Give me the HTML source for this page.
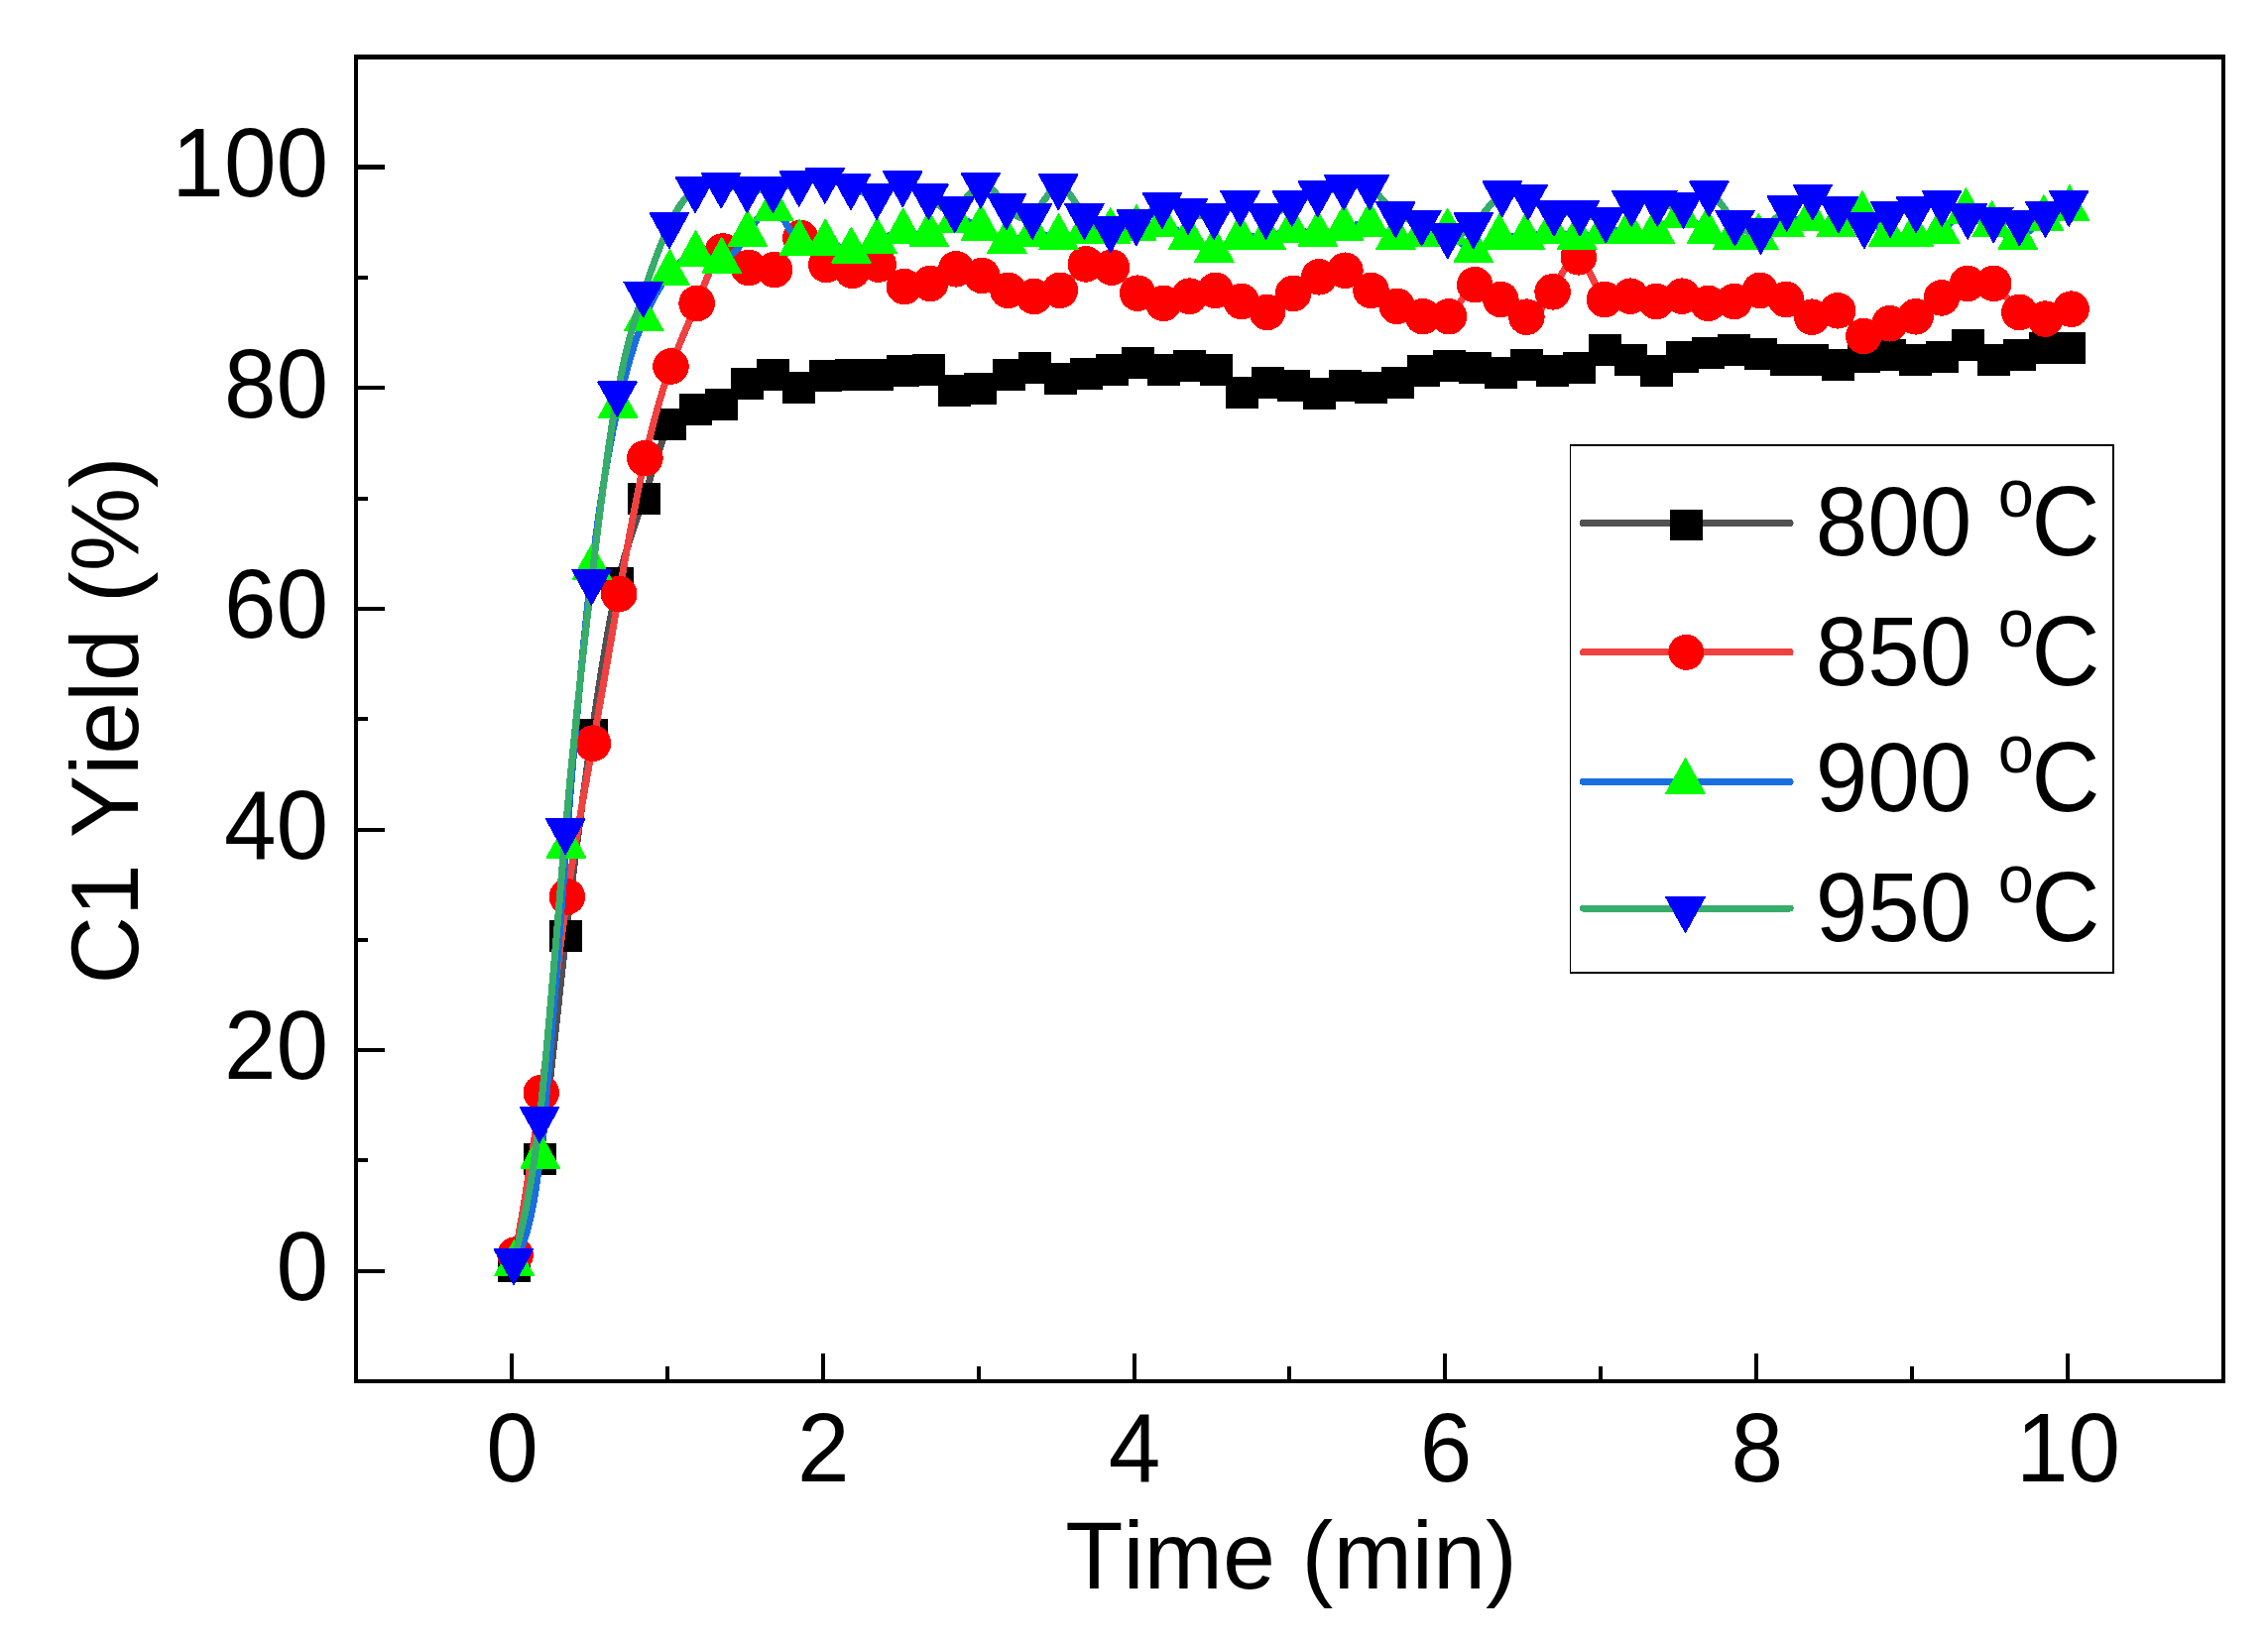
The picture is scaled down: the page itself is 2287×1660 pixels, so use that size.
<!DOCTYPE html>
<html lang="en"><head><meta charset="utf-8"><title>C1 Yield vs Time</title>
<style>html,body{margin:0;padding:0;background:#fff}body{width:2287px;height:1660px;overflow:hidden}svg{display:block}text{font-family:"Liberation Sans",Arial,Helvetica,sans-serif;fill:#000;font-kerning:none;letter-spacing:0}</style></head><body>
<svg width="2287" height="1660" viewBox="0 0 2287 1660" shape-rendering="crispEdges">
<rect width="2287" height="1660" fill="#fff"/>
<path d="M518.3 1276.8C527 1251.7 535.7 1226.5 544.4 1169C553.2 1111.5 561.9 1021.5 570.6 944C579.3 866.5 588 801.5 596.7 741.3C605.4 681.1 614.1 625.7 622.9 587.9C631.6 550.1 640.3 529.8 649 503.3C657.7 476.8 666.4 443.9 675.1 428C683.9 412.1 692.6 413.1 701.3 413.4C710 413.7 718.7 413.2 727.4 408.4C736.1 403.6 744.8 394.6 753.6 387.4C762.3 380.2 771 375 779.7 377.5C788.4 380 797.1 390.2 805.8 390.9C814.6 391.6 823.3 382.7 832 379C840.7 375.3 849.4 376.9 858.1 377.5C866.8 378.1 875.5 377.9 884.3 377.5C893 377.1 901.7 376.5 910.4 374.4C919.1 372.3 927.8 368.6 936.5 372.8C945.3 377 954 389.1 962.7 393.9C971.4 398.7 980.1 396.3 988.8 392.4C998.2 388.2 1007.6 382.4 1017 377.5C1025.7 372.9 1034.4 369 1043.1 371C1051.8 373 1060.5 380.7 1069.2 382.4C1078 384.1 1086.7 379.6 1095.4 377.4C1104.1 375.2 1112.8 375.3 1121.5 372.9C1130.2 370.5 1138.9 365.6 1147.7 365.9C1156.4 366.2 1165.1 371.6 1173.8 372.9C1182.5 374.2 1191.2 371.3 1199.9 369.4C1208.7 367.5 1217.4 366.5 1226.1 372.9C1234.8 379.3 1243.5 393 1252.2 395.5C1260.9 398 1269.6 389.2 1278.4 386C1287.1 382.8 1295.8 385.3 1304.5 389C1313.2 392.7 1321.9 397.5 1330.6 396.9C1339.4 396.3 1348.1 390.4 1356.8 389C1365.5 387.6 1374.2 390.6 1382.9 391C1391.6 391.4 1400.3 389.3 1409.1 385.8C1417.8 382.3 1426.5 377.5 1435.2 374.4C1443.9 371.3 1452.6 370 1461.3 369.4C1470.1 368.8 1478.8 368.9 1487.5 371C1496.2 373.1 1504.9 377 1513.6 375.9C1522.3 374.8 1531 368.5 1539.8 367.8C1548.5 367.1 1557.2 372.1 1565.9 374.4C1574.6 376.7 1583.3 376.4 1592 371C1600.8 365.6 1609.5 355.1 1618.2 352.9C1626.9 350.7 1635.6 356.6 1644.3 362.9C1653 369.2 1661.7 375.7 1670.5 374.4C1679.2 373.1 1687.9 363.8 1696.6 359.8C1705.3 355.8 1714 357 1722.7 356.4C1731.5 355.8 1740.2 353.5 1748.9 353.1C1757.6 352.7 1766.3 354.1 1775 356.5C1783.7 358.9 1792.4 362.1 1801.2 362.8C1809.9 363.5 1818.6 361.6 1827.3 362.8C1836 364 1844.7 368.3 1853.4 367.9C1862.2 367.5 1870.9 362.3 1879.6 359.7C1888.3 357.1 1897 357 1905.7 358.1C1914.4 359.2 1923.1 361.5 1931.9 362.8C1940.6 364.1 1949.3 364.2 1958 360C1966.7 355.8 1975.4 347.1 1984.1 348.1C1992.9 349.1 2001.6 359.7 2010.3 362.8C2019 365.9 2027.7 361.5 2036.4 358.1C2045.1 354.7 2053.8 352.3 2062.6 351.4C2070.6 350.6 2078.7 351 2086.7 351.4" fill="none" stroke="#515151" stroke-width="7" stroke-linejoin="round" stroke-linecap="round"/>
<path fill="#000000" shape-rendering="crispEdges" d="M501.8 1260.8h33v32h-33zM527.9 1153h33v32h-33zM554.1 928h33v32h-33zM580.2 725.3h33v32h-33zM606.4 571.9h33v32h-33zM632.5 487.3h33v32h-33zM658.6 412h33v32h-33zM684.8 397.4h33v32h-33zM710.9 392.4h33v32h-33zM737.1 371.4h33v32h-33zM763.2 361.5h33v32h-33zM789.3 374.9h33v32h-33zM815.5 363h33v32h-33zM841.6 361.5h33v32h-33zM867.8 361.5h33v32h-33zM893.9 358.4h33v32h-33zM920 356.8h33v32h-33zM946.2 377.9h33v32h-33zM972.3 376.4h33v32h-33zM1000.5 361.5h33v32h-33zM1026.6 355h33v32h-33zM1052.7 366.4h33v32h-33zM1078.9 361.4h33v32h-33zM1105 356.9h33v32h-33zM1131.2 349.9h33v32h-33zM1157.3 356.9h33v32h-33zM1183.4 353.4h33v32h-33zM1209.6 356.9h33v32h-33zM1235.7 379.5h33v32h-33zM1261.9 370h33v32h-33zM1288 373h33v32h-33zM1314.1 380.9h33v32h-33zM1340.3 373h33v32h-33zM1366.4 375h33v32h-33zM1392.6 369.8h33v32h-33zM1418.7 358.4h33v32h-33zM1444.8 353.4h33v32h-33zM1471 355h33v32h-33zM1497.1 359.9h33v32h-33zM1523.3 351.8h33v32h-33zM1549.4 358.4h33v32h-33zM1575.5 355h33v32h-33zM1601.7 336.9h33v32h-33zM1627.8 346.9h33v32h-33zM1654 358.4h33v32h-33zM1680.1 343.8h33v32h-33zM1706.2 340.4h33v32h-33zM1732.4 337.1h33v32h-33zM1758.5 340.5h33v32h-33zM1784.7 346.8h33v32h-33zM1810.8 346.8h33v32h-33zM1836.9 351.9h33v32h-33zM1863.1 343.7h33v32h-33zM1889.2 342.1h33v32h-33zM1915.4 346.8h33v32h-33zM1941.5 344h33v32h-33zM1967.6 332.1h33v32h-33zM1993.8 346.8h33v32h-33zM2019.9 342.1h33v32h-33zM2046.1 335.4h33v32h-33zM2070.2 335.4h33v32h-33z"/>
<path d="M519.6 1265.6C528.3 1215.1 537 1164.6 545.8 1102C554.5 1039.4 563.2 964.6 571.9 904.4C580.6 844.2 589.3 798.4 598 749.6C606.8 700.8 615.5 648.9 624.2 599C632.9 549 641.6 501 650.4 462.1C659.1 423.2 667.8 393.4 676.5 369.5C685.2 345.6 693.9 327.6 702.6 306C711.4 284.4 720.1 259.2 728.8 253.5C737.5 247.8 746.2 261.7 755 270.1C763.7 278.5 772.4 281.3 781.1 272C789.8 262.7 798.5 241.3 807.2 240C816 238.7 824.7 257.7 833.4 267C842.1 276.3 850.8 276.1 859.5 272.8C868.3 269.5 877 263 885.7 266.6C894.4 270.2 903.1 283.9 911.9 289.1C920.6 294.3 929.3 291.2 938 285.9C946.7 280.6 955.4 273.2 964.1 271.3C972.9 269.4 981.6 273.1 990.3 278C999 282.9 1007.7 289 1016.5 292.8C1025.2 296.6 1033.9 298.2 1042.6 299C1051.3 299.8 1060 299.7 1068.8 292.8C1077.5 285.9 1086.2 272.2 1094.9 266.4C1103.6 260.6 1112.3 262.7 1121 269.6C1129.8 276.5 1138.5 288.3 1147.2 295.7C1155.9 303.1 1164.6 306.2 1173.3 305.9C1182.1 305.6 1190.8 302.1 1199.5 298.7C1208.2 295.3 1216.9 292.2 1225.7 292.9C1234.4 293.6 1243.1 298.3 1251.8 304C1260.5 309.7 1269.2 316.5 1277.9 314.9C1286.7 313.3 1295.4 303.2 1304.1 295.9C1312.8 288.6 1321.5 283.9 1330.2 279.3C1339 274.7 1347.7 270.1 1356.4 272.8C1365.1 275.5 1373.8 285.6 1382.5 292.9C1391.3 300.2 1400 304.9 1408.7 308.8C1417.4 312.6 1426.1 315.6 1434.8 319.2C1443.6 322.8 1452.3 326.9 1461 319.2C1469.7 311.5 1478.4 292 1487.2 287.2C1495.9 282.5 1504.6 292.6 1513.3 302C1522 311.4 1530.7 320 1539.4 319.7C1548.2 319.4 1556.9 310.2 1565.6 294.3C1574.3 278.4 1583 255.8 1591.8 259.3C1600.5 262.8 1609.2 292.5 1617.9 302C1626.6 311.5 1635.3 300.7 1644.1 298.7C1652.8 296.7 1661.5 303.4 1670.2 304C1678.9 304.6 1687.6 298.9 1696.3 298.7C1705.1 298.5 1713.8 303.7 1722.5 305.9C1731.2 308.1 1739.9 307.5 1748.7 304C1757.4 300.5 1766.1 294.3 1774.8 292.9C1783.5 291.5 1792.2 295 1800.9 302C1809.7 309 1818.4 319.6 1827.1 319.7C1835.8 319.8 1844.5 309.4 1853.2 313.3C1862 317.2 1870.7 335.5 1879.4 339C1888.1 342.5 1896.8 331.2 1905.5 326.3C1914.3 321.4 1923 322.9 1931.7 319.3C1940.4 315.7 1949.1 307 1957.8 300.4C1966.6 293.8 1975.3 289.4 1984 285.9C1992.7 282.4 2001.4 279.7 2010.2 285.9C2018.9 292.1 2027.6 307.1 2036.3 314.9C2045 322.7 2053.7 323.3 2062.4 321.6C2071.2 319.9 2079.9 315.8 2088.6 311.7" fill="none" stroke="#F14040" stroke-width="7" stroke-linejoin="round" stroke-linecap="round"/>
<g fill="#FF0000"><circle cx="519.6" cy="1265.6" r="18.3"/><circle cx="545.8" cy="1102" r="18.3"/><circle cx="571.9" cy="904.4" r="18.3"/><circle cx="598" cy="749.6" r="18.3"/><circle cx="624.2" cy="599" r="18.3"/><circle cx="650.4" cy="462.1" r="18.3"/><circle cx="676.5" cy="369.5" r="18.3"/><circle cx="702.6" cy="306" r="18.3"/><circle cx="728.8" cy="253.5" r="18.3"/><circle cx="755" cy="270.1" r="18.3"/><circle cx="781.1" cy="272" r="18.3"/><circle cx="807.2" cy="240" r="18.3"/><circle cx="833.4" cy="267" r="18.3"/><circle cx="859.5" cy="272.8" r="18.3"/><circle cx="885.7" cy="266.6" r="18.3"/><circle cx="911.9" cy="289.1" r="18.3"/><circle cx="938" cy="285.9" r="18.3"/><circle cx="964.1" cy="271.3" r="18.3"/><circle cx="990.3" cy="278" r="18.3"/><circle cx="1016.5" cy="292.8" r="18.3"/><circle cx="1042.6" cy="299" r="18.3"/><circle cx="1068.8" cy="292.8" r="18.3"/><circle cx="1094.9" cy="266.4" r="18.3"/><circle cx="1121" cy="269.6" r="18.3"/><circle cx="1147.2" cy="295.7" r="18.3"/><circle cx="1173.3" cy="305.9" r="18.3"/><circle cx="1199.5" cy="298.7" r="18.3"/><circle cx="1225.7" cy="292.9" r="18.3"/><circle cx="1251.8" cy="304" r="18.3"/><circle cx="1277.9" cy="314.9" r="18.3"/><circle cx="1304.1" cy="295.9" r="18.3"/><circle cx="1330.2" cy="279.3" r="18.3"/><circle cx="1356.4" cy="272.8" r="18.3"/><circle cx="1382.5" cy="292.9" r="18.3"/><circle cx="1408.7" cy="308.8" r="18.3"/><circle cx="1434.8" cy="319.2" r="18.3"/><circle cx="1461" cy="319.2" r="18.3"/><circle cx="1487.2" cy="287.2" r="18.3"/><circle cx="1513.3" cy="302" r="18.3"/><circle cx="1539.4" cy="319.7" r="18.3"/><circle cx="1565.6" cy="294.3" r="18.3"/><circle cx="1591.8" cy="259.3" r="18.3"/><circle cx="1617.9" cy="302" r="18.3"/><circle cx="1644.1" cy="298.7" r="18.3"/><circle cx="1670.2" cy="304" r="18.3"/><circle cx="1696.3" cy="298.7" r="18.3"/><circle cx="1722.5" cy="305.9" r="18.3"/><circle cx="1748.7" cy="304" r="18.3"/><circle cx="1774.8" cy="292.9" r="18.3"/><circle cx="1800.9" cy="302" r="18.3"/><circle cx="1827.1" cy="319.7" r="18.3"/><circle cx="1853.2" cy="313.3" r="18.3"/><circle cx="1879.4" cy="339" r="18.3"/><circle cx="1905.5" cy="326.3" r="18.3"/><circle cx="1931.7" cy="319.3" r="18.3"/><circle cx="1957.8" cy="300.4" r="18.3"/><circle cx="1984" cy="285.9" r="18.3"/><circle cx="2010.2" cy="285.9" r="18.3"/><circle cx="2036.3" cy="314.9" r="18.3"/><circle cx="2062.4" cy="321.6" r="18.3"/><circle cx="2088.6" cy="311.7" r="18.3"/></g>
<path d="M518.6 1274.3C527.3 1256.8 536 1239.4 544.7 1166.4C553.5 1093.4 562.2 965 570.9 853C579.6 741 588.3 645.5 597 572.4C605.7 499.3 614.4 448.6 623.2 409.4C631.9 370.2 640.6 342.6 649.3 321.7C658 300.8 666.7 286.7 675.4 275.5C684.2 264.3 692.9 256.2 701.6 256.3C710.3 256.4 719 264.8 727.7 263.2C736.4 261.6 745.1 250 753.9 236.2C762.6 222.4 771.3 206.5 780 210.2C788.7 213.9 797.4 237.2 806.1 245C814.9 252.8 823.6 245.2 832.3 245C841 244.8 849.7 252.1 858.4 253C867.1 253.9 875.8 248.6 884.6 243.5C893.3 238.4 902 233.7 910.7 233.8C919.4 233.9 928.1 238.8 936.8 236.6C945.6 234.4 954.3 225 963 222.5C971.7 220 980.4 224.5 989.1 230.3C997.8 236.1 1006.5 243.2 1015.3 243.5C1024 243.8 1032.7 237.1 1041.4 236.1C1050.1 235.1 1058.8 239.6 1067.5 239.5C1076.3 239.4 1085 234.7 1093.7 233.2C1102.4 231.7 1111.1 233.5 1119.8 233.6C1128.5 233.7 1137.2 232.2 1146 230.2C1154.7 228.2 1163.4 225.6 1172.1 226.9C1180.8 228.2 1189.5 233.2 1198.2 239.5C1207 245.8 1215.7 253.2 1224.4 252.3C1233.1 251.5 1241.8 242.2 1250.5 239.5C1259.2 236.8 1267.9 240.5 1276.7 239.5C1285.4 238.5 1294.1 232.8 1302.8 232.1C1311.5 231.4 1320.2 235.9 1328.9 236.3C1337.7 236.7 1346.4 233.2 1355.1 230.1C1363.8 227 1372.5 224.4 1381.2 226.9C1389.9 229.4 1398.6 236.9 1407.4 239.5C1416.1 242.1 1424.8 239.7 1433.5 236.6C1442.2 233.5 1450.9 229.7 1459.6 234.1C1468.4 238.5 1477.1 251.3 1485.8 252.3C1494.5 253.4 1503.2 242.8 1511.9 239.5C1520.6 236.2 1529.3 240.3 1538.1 239.5C1546.8 238.7 1555.5 233.2 1564.2 233.2C1572.9 233.2 1581.6 238.9 1590.3 239.5C1599.1 240.1 1607.8 235.6 1616.5 233.6C1625.2 231.5 1633.9 232 1642.6 233.6C1651.3 235.1 1660 237.8 1668.8 233.6C1677.5 229.3 1686.2 218 1694.9 217.7C1703.6 217.4 1712.3 228.2 1721 233.6C1729.8 238.9 1738.5 238.8 1747.2 239.5C1755.9 240.2 1764.6 241.7 1773.3 239.5C1782 237.3 1790.7 231.3 1799.5 226.7C1808.2 222.1 1816.9 219 1825.6 220.6C1834.3 222.2 1843 228.5 1851.7 226.7C1860.5 224.9 1869.2 214.8 1877.9 216.6C1886.6 218.4 1895.3 231.9 1904 236.6C1912.7 241.3 1921.4 237.3 1930.2 236.6C1938.9 235.9 1947.6 238.5 1956.3 233.6C1965 228.6 1973.7 215.9 1982.4 213.6C1991.2 211.3 1999.9 219.2 2008.6 226.8C2017.3 234.3 2026 241.3 2034.7 239.5C2043.4 237.7 2052.1 227 2060.9 220.7C2069.6 214.3 2078.3 212.4 2087 210.4" fill="none" stroke="#1A6FDF" stroke-width="7" stroke-linejoin="round" stroke-linecap="round"/>
<path fill="#00FF00" stroke="#00FF00" stroke-width="1.5" stroke-linejoin="round" d="M518.6 1250.8L538.1 1286.1L499.1 1286.1zM544.7 1142.9L564.2 1178.2L525.2 1178.2zM570.9 829.5L590.4 864.8L551.4 864.8zM597 548.9L616.5 584.2L577.5 584.2zM623.2 385.9L642.7 421.2L603.7 421.2zM649.3 298.2L668.8 333.5L629.8 333.5zM675.4 252L694.9 287.3L655.9 287.3zM701.6 232.8L721.1 268.1L682.1 268.1zM727.7 239.7L747.2 275L708.2 275zM753.9 212.7L773.4 248L734.4 248zM780 186.7L799.5 222L760.5 222zM806.1 221.5L825.6 256.8L786.6 256.8zM832.3 221.5L851.8 256.8L812.8 256.8zM858.4 229.5L877.9 264.8L838.9 264.8zM884.6 220L904.1 255.3L865.1 255.3zM910.7 210.3L930.2 245.6L891.2 245.6zM936.8 213.1L956.3 248.4L917.3 248.4zM963 199L982.5 234.3L943.5 234.3zM989.1 206.8L1008.6 242.1L969.6 242.1zM1015.3 220L1034.8 255.3L995.8 255.3zM1041.4 212.6L1060.9 247.9L1021.9 247.9zM1067.5 216L1087 251.3L1048 251.3zM1093.7 209.7L1113.2 245L1074.2 245zM1119.8 210.1L1139.3 245.4L1100.3 245.4zM1146 206.7L1165.5 242L1126.5 242zM1172.1 203.4L1191.6 238.7L1152.6 238.7zM1198.2 216L1217.7 251.3L1178.7 251.3zM1224.4 228.8L1243.9 264.1L1204.9 264.1zM1250.5 216L1270 251.3L1231 251.3zM1276.7 216L1296.2 251.3L1257.2 251.3zM1302.8 208.6L1322.3 243.9L1283.3 243.9zM1328.9 212.8L1348.4 248.1L1309.4 248.1zM1355.1 206.6L1374.6 241.9L1335.6 241.9zM1381.2 203.4L1400.7 238.7L1361.7 238.7zM1407.4 216L1426.9 251.3L1387.9 251.3zM1433.5 213.1L1453 248.4L1414 248.4zM1459.6 210.6L1479.1 245.9L1440.1 245.9zM1485.8 228.8L1505.3 264.1L1466.3 264.1zM1511.9 216L1531.4 251.3L1492.4 251.3zM1538.1 216L1557.6 251.3L1518.6 251.3zM1564.2 209.7L1583.7 245L1544.7 245zM1590.3 216L1609.8 251.3L1570.8 251.3zM1616.5 210L1636 245.3L1597 245.3zM1642.6 210L1662.1 245.3L1623.1 245.3zM1668.8 210L1688.3 245.3L1649.3 245.3zM1694.9 194.2L1714.4 229.5L1675.4 229.5zM1721 210L1740.5 245.3L1701.5 245.3zM1747.2 216L1766.7 251.3L1727.7 251.3zM1773.3 216L1792.8 251.3L1753.8 251.3zM1799.5 203.2L1819 238.5L1780 238.5zM1825.6 197.1L1845.1 232.4L1806.1 232.4zM1851.7 203.2L1871.2 238.5L1832.2 238.5zM1877.9 193.1L1897.4 228.4L1858.4 228.4zM1904 213.1L1923.5 248.4L1884.5 248.4zM1930.2 213.1L1949.7 248.4L1910.7 248.4zM1956.3 210L1975.8 245.3L1936.8 245.3zM1982.4 190.1L2001.9 225.4L1962.9 225.4zM2008.6 203.2L2028.1 238.5L1989.1 238.5zM2034.7 216L2054.2 251.3L2015.2 251.3zM2060.9 197.1L2080.4 232.4L2041.4 232.4zM2087 186.9L2106.5 222.2L2067.5 222.2z"/>
<path d="M517.9 1271.9C526.6 1238 535.3 1204.1 544.1 1128.6C552.8 1053.1 561.5 936 570.2 837.8C578.9 739.6 587.7 660.2 596.4 586.4C605.1 512.6 613.8 444.5 622.5 396.9C631.3 349.3 640 322.1 648.7 296.1C657.4 270.1 666.1 245.3 674.9 226.9C683.6 208.5 692.3 196.7 701 190.8C709.7 184.9 718.5 185.1 727.2 186.3C735.9 187.5 744.6 189.6 753.3 190.8C762.1 192 770.8 192.2 779.5 190.8C788.2 189.5 796.9 186.6 805.7 184.5C814.4 182.4 823.1 181.1 831.8 181.4C840.5 181.7 849.3 183.5 858 187.8C866.7 192.1 875.4 199 884.1 197.6C892.9 196.2 901.6 186.5 910.3 184.9C919 183.3 927.7 189.9 936.5 197.9C945.2 205.9 953.9 215.3 962.6 211C971.3 206.7 980.1 188.7 988.8 186.4C997.5 184.1 1006.2 197.7 1014.9 207.8C1023.7 217.9 1032.4 224.7 1041.1 217.4C1049.8 210.1 1058.5 188.8 1067.3 187.9C1076 187 1084.7 206.7 1093.4 217.6C1102.1 228.5 1110.9 230.7 1119.6 231C1128.3 231.3 1137 229.5 1145.7 224C1154.5 218.5 1163.2 209.1 1171.9 206.6C1180.6 204.1 1189.3 208.5 1198.1 212.6C1206.8 216.7 1215.5 220.7 1224.2 217.5C1232.9 214.3 1241.7 204.1 1250.4 204.6C1259.1 205.1 1267.8 216.3 1276.5 217.5C1285.3 218.7 1294 210 1302.7 204.6C1311.4 199.2 1320.1 197.1 1328.9 195C1337.6 192.9 1346.3 190.8 1355 188.1C1363.7 185.4 1372.5 182.2 1381.2 188.1C1389.9 194 1398.6 209 1407.3 215.8C1416.1 222.6 1424.8 221.1 1433.5 224.2C1442.2 227.3 1450.9 235 1459.7 237.1C1468.4 239.2 1477.1 235.8 1485.8 227C1495.5 217.3 1505.1 201 1514.8 195C1523.5 189.6 1532.2 192.6 1540.9 198.2C1549.6 203.8 1558.3 212.1 1567 214.3C1575.7 216.5 1584.3 212.7 1593 214.3C1601.7 215.9 1610.4 222.8 1619.1 221.1C1627.8 219.4 1636.5 208.9 1645.2 204.6C1653.9 200.3 1662.6 202.1 1671.3 204.6C1680 207.1 1688.7 210.3 1697.4 206.5C1706.1 202.7 1714.7 192.1 1723.4 195C1732.1 197.9 1740.8 214.5 1749.5 224.2C1758.2 233.9 1766.9 236.7 1775.6 232.5C1784.3 228.3 1793 217.3 1801.7 209.6C1810.4 201.9 1819.1 197.7 1827.8 198.2C1836.5 198.7 1845.1 204 1853.8 211C1862.5 218 1871.2 226.6 1879.9 226.9C1888.6 227.2 1897.3 219.2 1906 215.7C1914.7 212.2 1923.4 213.2 1932.1 211C1940.8 208.8 1949.5 203.3 1958.2 204.6C1966.9 205.9 1975.5 213.8 1984.2 217.4C1992.9 221 2001.6 220.2 2010.3 221.1C2019 222 2027.7 224.8 2036.4 224.2C2045.1 223.6 2053.8 219.8 2062.5 215.8C2070.4 212.1 2078.3 208.3 2086.2 204.4" fill="none" stroke="#37AD6B" stroke-width="7" stroke-linejoin="round" stroke-linecap="round"/>
<path fill="#0000FF" stroke="#0000FF" stroke-width="1.5" stroke-linejoin="round" d="M517.9 1295.4L537.4 1260.1L498.4 1260.1zM544.1 1152.1L563.6 1116.8L524.6 1116.8zM570.2 861.3L589.7 826L550.7 826zM596.4 609.9L615.9 574.6L576.9 574.6zM622.5 420.4L642 385.1L603 385.1zM648.7 319.6L668.2 284.3L629.2 284.3zM674.9 250.4L694.4 215.1L655.4 215.1zM701 214.3L720.5 179L681.5 179zM727.2 209.8L746.7 174.5L707.7 174.5zM753.3 214.3L772.8 179L733.8 179zM779.5 214.4L799 179.1L760 179.1zM805.7 208L825.2 172.7L786.2 172.7zM831.8 204.9L851.3 169.6L812.3 169.6zM858 211.3L877.5 176L838.5 176zM884.1 221.1L903.6 185.8L864.6 185.8zM910.3 208.4L929.8 173.1L890.8 173.1zM936.5 221.4L956 186.1L917 186.1zM962.6 234.5L982.1 199.2L943.1 199.2zM988.8 209.9L1008.3 174.6L969.3 174.6zM1014.9 231.3L1034.4 196L995.4 196zM1041.1 240.9L1060.6 205.6L1021.6 205.6zM1067.3 211.4L1086.8 176.1L1047.8 176.1zM1093.4 241.1L1112.9 205.8L1073.9 205.8zM1119.6 254.5L1139.1 219.2L1100.1 219.2zM1145.7 247.5L1165.2 212.2L1126.2 212.2zM1171.9 230.1L1191.4 194.8L1152.4 194.8zM1198.1 236.1L1217.6 200.8L1178.6 200.8zM1224.2 241L1243.7 205.7L1204.7 205.7zM1250.4 228.1L1269.9 192.8L1230.9 192.8zM1276.5 241L1296 205.7L1257 205.7zM1302.7 228.1L1322.2 192.8L1283.2 192.8zM1328.9 218.5L1348.4 183.2L1309.4 183.2zM1355 211.6L1374.5 176.3L1335.5 176.3zM1381.2 211.6L1400.7 176.3L1361.7 176.3zM1407.3 239.3L1426.8 204L1387.8 204zM1433.5 247.7L1453 212.4L1414 212.4zM1459.7 260.6L1479.2 225.3L1440.2 225.3zM1485.8 250.5L1505.3 215.2L1466.3 215.2zM1514.8 218.5L1534.3 183.2L1495.3 183.2zM1540.9 221.7L1560.4 186.4L1521.4 186.4zM1567 237.8L1586.5 202.5L1547.5 202.5zM1593 237.8L1612.5 202.5L1573.5 202.5zM1619.1 244.6L1638.6 209.3L1599.6 209.3zM1645.2 228.1L1664.7 192.8L1625.7 192.8zM1671.3 228.1L1690.8 192.8L1651.8 192.8zM1697.4 230L1716.9 194.7L1677.9 194.7zM1723.4 218.5L1742.9 183.2L1703.9 183.2zM1749.5 247.7L1769 212.4L1730 212.4zM1775.6 256L1795.1 220.7L1756.1 220.7zM1801.7 233.1L1821.2 197.8L1782.2 197.8zM1827.8 221.7L1847.3 186.4L1808.3 186.4zM1853.8 234.5L1873.3 199.2L1834.3 199.2zM1879.9 250.4L1899.4 215.1L1860.4 215.1zM1906 239.2L1925.5 203.9L1886.5 203.9zM1932.1 234.5L1951.6 199.2L1912.6 199.2zM1958.2 228.1L1977.7 192.8L1938.7 192.8zM1984.2 240.9L2003.7 205.6L1964.7 205.6zM2010.3 244.6L2029.8 209.3L1990.8 209.3zM2036.4 247.7L2055.9 212.4L2016.9 212.4zM2062.5 239.3L2082 204L2043 204zM2086.2 228L2105.7 192.7L2066.7 192.7z"/>
<g shape-rendering="crispEdges" fill="#000">
<rect x="357" y="55" width="1887" height="5"/>
<rect x="357" y="1391" width="1887" height="4"/>
<rect x="357" y="55" width="4" height="1340"/>
<rect x="2240" y="55" width="4" height="1340"/>
<rect x="359" y="1280" width="28.5" height="4"/>
<rect x="359" y="1168" width="12" height="4"/>
<rect x="359" y="1057" width="28.5" height="4"/>
<rect x="359" y="946" width="12" height="4"/>
<rect x="359" y="835" width="28.5" height="4"/>
<rect x="359" y="723" width="12" height="4"/>
<rect x="359" y="612" width="28.5" height="4"/>
<rect x="359" y="501" width="12" height="4"/>
<rect x="359" y="389" width="28.5" height="4"/>
<rect x="359" y="278" width="12" height="4"/>
<rect x="359" y="166" width="29" height="5"/>
<rect x="514" y="1365" width="4" height="28"/>
<rect x="671" y="1378" width="4" height="15"/>
<rect x="828" y="1365" width="4" height="28"/>
<rect x="985" y="1378" width="4" height="15"/>
<rect x="1142" y="1365" width="4" height="28"/>
<rect x="1298" y="1378" width="4" height="15"/>
<rect x="1455" y="1365" width="4" height="28"/>
<rect x="1612" y="1378" width="4" height="15"/>
<rect x="1769" y="1365" width="4" height="28"/>
<rect x="1926" y="1378" width="4" height="15"/>
<rect x="2083" y="1365" width="4" height="28"/>
</g>
<g font-size="94.5" text-anchor="end">
<text transform="translate(331 1311) scale(1 1.04)">0</text>
<text transform="translate(331 1088.4) scale(1 1.04)">20</text>
<text transform="translate(331 865.8) scale(1 1.04)">40</text>
<text transform="translate(331 643.3) scale(1 1.04)">60</text>
<text transform="translate(331 420.7) scale(1 1.04)">80</text>
<text transform="translate(331 198.1) scale(1 1.04)">100</text>
</g>
<g font-size="94.5" text-anchor="middle">
<text transform="translate(516.4 1494) scale(1 1.04)">0</text>
<text transform="translate(830.2 1494) scale(1 1.04)">2</text>
<text transform="translate(1144.1 1494) scale(1 1.04)">4</text>
<text transform="translate(1457.9 1494) scale(1 1.04)">6</text>
<text transform="translate(1771.8 1494) scale(1 1.04)">8</text>
<text transform="translate(2085.6 1494) scale(1 1.04)">10</text>
</g>
<text transform="translate(1302 1601.5) scale(1 1.015)" font-size="95.4" text-anchor="middle">Time (min)</text>
<text transform="translate(138.8 726.5) rotate(-90) scale(1 1.015)" font-size="94.8" text-anchor="middle">C1 Yield (%)</text>
<g shape-rendering="crispEdges" fill="#000"><rect x="1583" y="448" width="549" height="2"/><rect x="1583" y="980" width="549" height="2"/><rect x="1583" y="448" width="1" height="534"/><rect x="2130" y="448" width="2" height="534"/></g>
<path d="M1596.4 527.5H1805.1" stroke="#515151" stroke-width="7" stroke-linecap="round" fill="none"/>
<rect x="1684" y="514" width="33" height="31" fill="#000" shape-rendering="crispEdges"/>
<text transform="translate(0 559.9) scale(1 1.04)" font-size="94.4"><tspan x="1830.8">800 </tspan><tspan x="2014.8" dy="-37.3" font-size="65">o</tspan><tspan x="2048.5" dy="37.3" font-size="95.5">C</tspan></text>
<path d="M1596.4 657.8H1805.1" stroke="#F14040" stroke-width="7" stroke-linecap="round" fill="none"/>
<circle cx="1700.3" cy="657.8" r="18" fill="#FF0000"/>
<text transform="translate(0 690.6) scale(1 1.04)" font-size="94.4"><tspan x="1830.8">850 </tspan><tspan x="2014.8" dy="-37.3" font-size="65">o</tspan><tspan x="2048.5" dy="37.3" font-size="95.5">C</tspan></text>
<path d="M1596.4 788.4H1805.1" stroke="#1A6FDF" stroke-width="7" stroke-linecap="round" fill="none"/>
<path d="M1699.5 764.9L1719 800.2L1680 800.2z" fill="#00FF00" stroke="#00FF00" stroke-width="1.5" stroke-linejoin="round"/>
<text transform="translate(0 817.8) scale(1 1.04)" font-size="94.4"><tspan x="1830.8">900 </tspan><tspan x="2014.8" dy="-37.3" font-size="65">o</tspan><tspan x="2048.5" dy="37.3" font-size="95.5">C</tspan></text>
<path d="M1596.4 916H1805.1" stroke="#37AD6B" stroke-width="7" stroke-linecap="round" fill="none"/>
<path d="M1699.5 940.2L1719 904.9L1680 904.9z" fill="#0000FF" stroke="#0000FF" stroke-width="1.5" stroke-linejoin="round"/>
<text transform="translate(0 948.7) scale(1 1.04)" font-size="94.4"><tspan x="1830.8">950 </tspan><tspan x="2014.8" dy="-37.3" font-size="65">o</tspan><tspan x="2048.5" dy="37.3" font-size="95.5">C</tspan></text>
</svg></body></html>
